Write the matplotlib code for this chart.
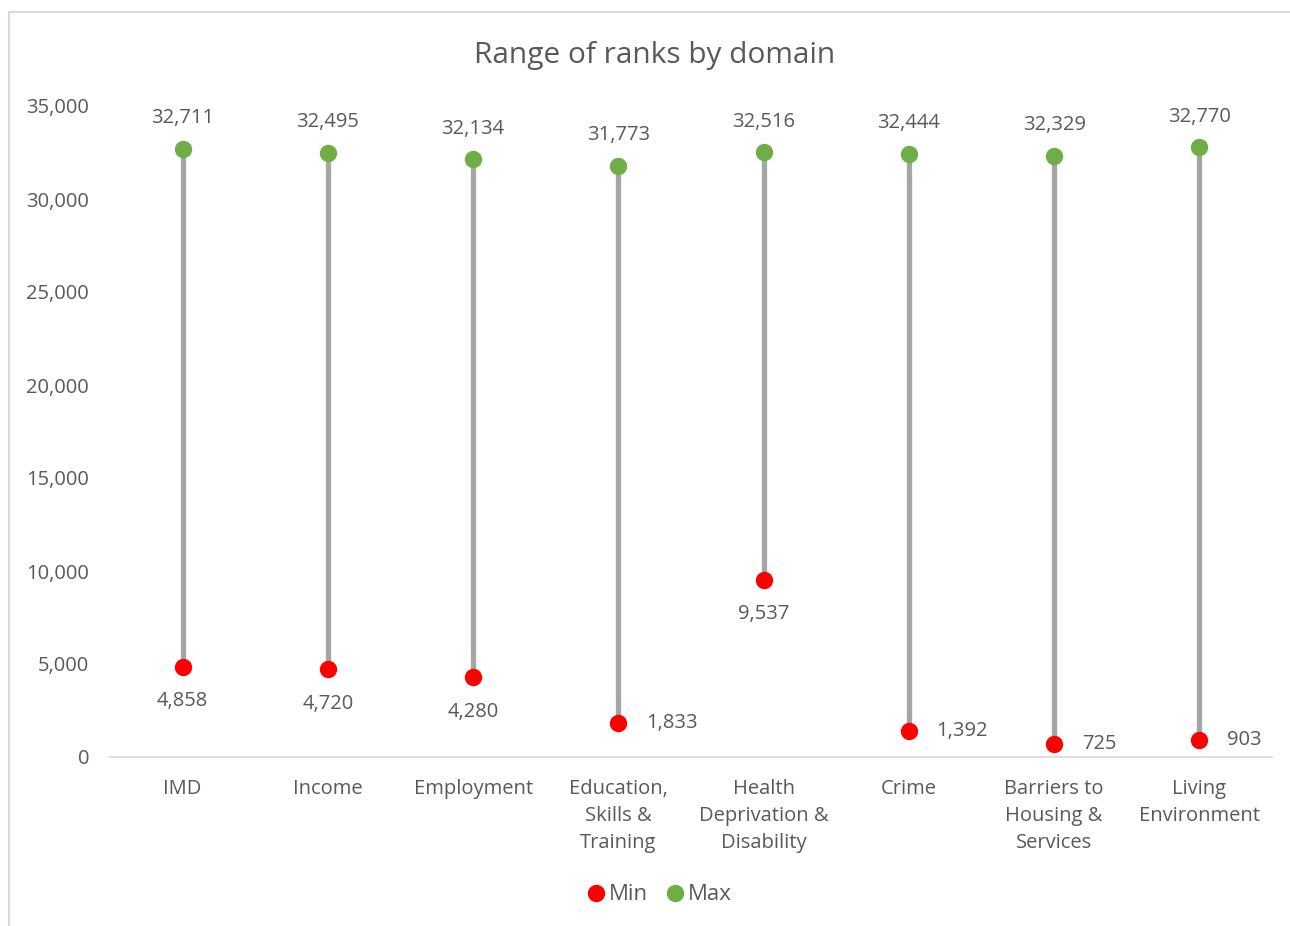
import matplotlib.pyplot as plt
from matplotlib.patches import Rectangle
from matplotlib.lines import Line2D

plt.rcParams['font.family'] = ['Open Sans', 'DejaVu Sans']

domains = ["IMD", "Income", "Employment", "Education,\nSkills &\nTraining",
           "Health\nDeprivation &\nDisability", "Crime", "Barriers to\nHousing &\nServices",
           "Living\nEnvironment"]
min_rank = [4858, 4720, 4280, 1833, 9537, 1392, 725, 903]
max_rank = [32711, 32495, 32134, 31773, 32516, 32444, 32329, 32770]
# where the min label goes: below the dot or to its right
min_label_side = ["below", "below", "below", "right", "below", "right", "right", "right"]

TXT = "#595959"
GREY = "#A5A5A5"
RED = "#FF0000"
GREEN = "#70AD47"
FS = 14.5

fig = plt.figure(figsize=(12.9, 9.26), dpi=100)
# outer chart border
fig.patches.append(Rectangle((9 / 1290, -0.05), 1.2, 1 - 12 / 926 + 0.05,
                             transform=fig.transFigure, fill=False,
                             edgecolor="#D9D9D9", linewidth=1.5))

ax = fig.add_axes([110 / 1290, 1 - 757 / 926, 1162 / 1290, 651 / 926])
x = list(range(len(domains)))

ax.vlines(x, min_rank, max_rank, color=GREY, linewidth=3.8, zorder=1)
ax.plot(x, min_rank, "o", color=RED, markersize=11.5, zorder=3, label="Min")
ax.plot(x, max_rank, "o", color=GREEN, markersize=11.5, zorder=3, label="Max")

for i in x:
    ax.annotate(f"{max_rank[i]:,}", (i, max_rank[i]), xytext=(0, 22),
                textcoords="offset points", ha="center", va="center",
                fontsize=FS, color=TXT)
    if min_label_side[i] == "below":
        ax.annotate(f"{min_rank[i]:,}", (i, min_rank[i]), xytext=(0, -25),
                    textcoords="offset points", ha="center", va="center",
                    fontsize=FS, color=TXT)
    else:
        ax.annotate(f"{min_rank[i]:,}", (i, min_rank[i]), xytext=(20, 0),
                    textcoords="offset points", ha="left", va="center",
                    fontsize=FS, color=TXT)

ax.set_xlim(-0.5, len(domains) - 0.5)
ax.set_ylim(0, 35000)
ax.set_yticks(range(0, 35001, 5000))
ax.set_yticklabels([f"{v:,}" for v in range(0, 35001, 5000)])
ax.set_xticks(x)
ax.set_xticklabels(domains, linespacing=1.48)
ax.tick_params(axis="both", length=0, labelsize=FS, labelcolor=TXT)
ax.tick_params(axis="y", pad=15)
ax.tick_params(axis="x", pad=15.5)

for s in ["top", "right", "left"]:
    ax.spines[s].set_visible(False)
ax.spines["bottom"].set_color("#D9D9D9")
ax.spines["bottom"].set_linewidth(1.2)

fig.text(655 / 1290, 1 - 55 / 926, "Range of ranks by domain", ha="center", va="center",
         fontsize=21.5, color=TXT)

handles = [Line2D([], [], marker="o", linestyle="", color=RED, markersize=11.5),
           Line2D([], [], marker="o", linestyle="", color=GREEN, markersize=11.5)]
fig.legend(handles, ["Min", "Max"], loc="center", bbox_to_anchor=(657 / 1290, 1 - 895 / 926),
           ncol=2, frameon=False, fontsize=16, labelcolor=TXT, handletextpad=0.0,
           columnspacing=0.6, handlelength=1.2)

fig.savefig("out.png", dpi=100)
